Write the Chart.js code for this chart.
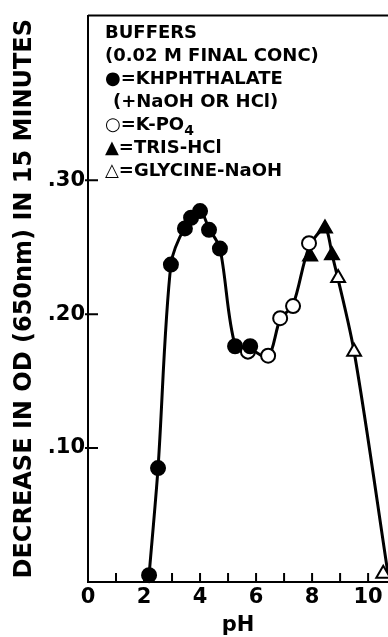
<!DOCTYPE html>
<html>
<head>
<meta charset="utf-8">
<script src="https://cdn.jsdelivr.net/npm/chart.js@4/dist/chart.umd.min.js"></script>
<style>
  html, body { margin: 0; padding: 0; background: #fff; }
  #wrap { position: relative; width: 388px; height: 637px; overflow: hidden; }
  #key {
    position: absolute; left: 105px; top: 20px;
    font: bold 18px 'DejaVu Sans', sans-serif; color: #000;
    line-height: 23px; white-space: nowrap;
  }
  #key sub { font-size: 14px; line-height: 0; vertical-align: -5px; }
</style>
</head>
<body>
<div id="wrap">
  <canvas id="c" width="388" height="637"></canvas>
  <div id="key">
    <div>BUFFERS</div>
    <div>(0.02 M FINAL CONC)</div>
    <div>●=KHPHTHALATE</div>
    <div style="padding-left:8px">(+NaOH OR HCl)</div>
    <div>○=K-PO<sub>4</sub></div>
    <div>▲=TRIS-HCl</div>
    <div>△=GLYCINE-NaOH</div>
  </div>
</div>
<script>
// pH vs decrease in OD (650 nm) in 15 minutes, by buffer
const phthalatePH = [2.18, 2.5, 2.96, 3.46, 3.68, 4.0, 4.32, 4.71, 5.25, 5.79];
const phthalateOD = [0.005, 0.085, 0.237, 0.264, 0.272, 0.277, 0.263, 0.249, 0.176, 0.176];
const phosphatePH = [5.71, 6.43, 6.86, 7.32, 7.89];
const phosphateOD = [0.172, 0.169, 0.197, 0.206, 0.253];
const trisPH = [7.93, 8.46, 8.71];
const trisOD = [0.243, 0.264, 0.244];
const glycinePH = [8.93, 9.5, 10.54];
const glycineOD = [0.227, 0.172, 0.006];

// hand-drawn smooth curve through the points
const curvePH = [2.18, 2.5, 2.96, 3.46, 4.0, 4.32, 4.71, 5.25, 5.79, 6.43, 6.86, 7.32, 7.89, 8.46, 8.71, 9.5, 10.71];
const curveOD = [0.005, 0.085, 0.237, 0.265, 0.277, 0.264, 0.249, 0.177, 0.174, 0.168, 0.196, 0.207, 0.25, 0.264, 0.245, 0.172, 0.006];

const xTickValues = [0, 1, 2, 3, 4, 5, 6, 7, 8, 9, 10];
const xTickLabels = ['0', '', '2', '', '4', '', '6', '', '8', '', '10'];
const yTickValues = [0.1, 0.2, 0.3];
const yTickLabels = ['.10', '.20', '.30'];

const FONT = "'DejaVu Sans', sans-serif";
const pts = (xs, ys) => xs.map((v, i) => ({ x: v, y: ys[i] }));

// inward tick marks + top frame line
const innerTicks = {
  id: 'innerTicks',
  afterDraw(chart) {
    const { ctx, chartArea: a, scales: { x, y } } = chart;
    ctx.save();
    ctx.strokeStyle = '#000';
    ctx.lineWidth = 2;
    ctx.beginPath();
    ctx.moveTo(a.left, a.top);
    ctx.lineTo(a.right, a.top);
    x.ticks.forEach(t => {
      if (t.value <= 0) return;
      const px = x.getPixelForValue(t.value);
      ctx.moveTo(px, a.bottom);
      ctx.lineTo(px, a.bottom - 9);
    });
    y.ticks.forEach(t => {
      const py = y.getPixelForValue(t.value);
      ctx.moveTo(a.left - 3, py);
      ctx.lineTo(a.left + 10, py);
    });
    ctx.stroke();
    ctx.restore();
  }
};

const marker = (label, xs, ys, style, filled, r) => ({
  label,
  data: pts(xs, ys),
  showLine: false,
  pointStyle: style,
  pointRadius: r,
  pointBackgroundColor: filled ? '#000' : '#fff',
  pointBorderColor: '#000',
  pointBorderWidth: 2,
  clip: false,
  order: 1,
});

new Chart(document.getElementById('c'), {
  type: 'scatter',
  data: {
    datasets: [
      marker('KH phthalate', phthalatePH, phthalateOD, 'circle', true, 7),
      marker('K-PO4', phosphatePH, phosphateOD, 'circle', false, 7),
      marker('Tris-HCl', trisPH, trisOD, 'triangle', true, 8),
      marker('Glycine-NaOH', glycinePH, glycineOD, 'triangle', false, 8),
      {
        label: 'curve',
        data: pts(curvePH, curveOD),
        showLine: true,
        borderColor: '#000',
        borderWidth: 3,
        pointRadius: 0,
        tension: 0.3,
        order: 2,
      },
    ],
  },
  options: {
    responsive: false,
    animation: false,
    layout: { autoPadding: false, padding: { top: 13, right: 0, left: 0, bottom: 0 } },
    plugins: {
      legend: { display: false },
      tooltip: { enabled: false },
    },
    scales: {
      x: {
        type: 'linear',
        min: 0,
        max: 10.71,
        afterBuildTicks: s => { s.ticks = xTickValues.map(v => ({ value: v })); },
        grid: { display: false, drawTicks: false },
        border: { display: true, color: '#000', width: 2 },
        ticks: {
          autoSkip: false,
          maxRotation: 0,
          padding: 4,
          color: '#000',
          font: { family: FONT, size: 21, weight: 'bold', lineHeight: 1.1 },
          callback: (v, i) => xTickLabels[i],
        },
        title: {
          display: true,
          text: 'pH',
          color: '#000',
          font: { family: FONT, size: 21, weight: 'bold', lineHeight: 1 },
          padding: { top: 2, bottom: 1 },
        },
      },
      y: {
        min: 0,
        max: 0.423,
        afterBuildTicks: s => { s.ticks = yTickValues.map(v => ({ value: v })); },
        afterFit: s => { s.width = 88; },
        grid: { display: false, drawTicks: false },
        border: { display: true, color: '#000', width: 2 },
        ticks: {
          padding: 3,
          color: '#000',
          font: { family: FONT, size: 21, weight: 'bold' },
          callback: (v, i) => yTickLabels[i],
        },
        title: {
          display: true,
          text: 'DECREASE IN OD (650nm) IN 15 MINUTES',
          color: '#000',
          font: { family: FONT, size: 24, weight: 'bold', lineHeight: 1 },
          padding: { top: 13, bottom: 4 },
        },
      },
    },
  },
  plugins: [innerTicks],
});
</script>
</body>
</html>
